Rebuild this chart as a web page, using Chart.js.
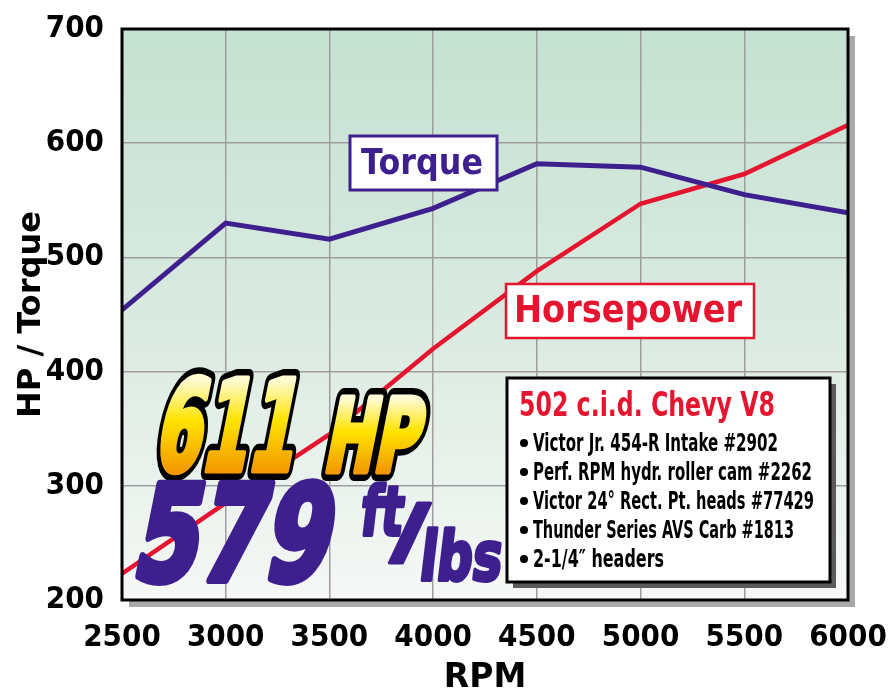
<!DOCTYPE html>
<html>
<head>
<meta charset="utf-8">
<script src="https://cdn.jsdelivr.net/npm/chart.js@4.4.1/dist/chart.umd.min.js"></script>
<style>
  html, body { margin: 0; padding: 0; background: #fff; }
  #wrap { width: 888px; height: 700px; }
</style>
</head>
<body>
<div id="wrap"><canvas id="dynoChart" width="888" height="700"></canvas></div>
<script>
// dyno chart data
const rpm = [2500, 3000, 3500, 4000, 4500, 5000, 5500, 6000];
const torque = [454, 530, 516, 543, 582, 579, 555, 539];
const horsepower = [223, 285, 345, 420, 488, 547, 573, 616];

const rpmTicks = [2500, 3000, 3500, 4000, 4500, 5000, 5500, 6000];
const yTicks = [200, 300, 400, 500, 600, 700];

const specTitle = "502 c.i.d. Chevy V8";
const specLines = [
  "Victor Jr. 454-R Intake #2902",
  "Perf. RPM hydr. roller cam #2262",
  "Victor 24\u00b0 Rect. Pt. heads #77429",
  "Thunder Series AVS Carb #1813",
  "2-1/4\u2033 headers"
];

const PURPLE = "#3e1f8e";
const RED = "#e5152f";
const NARROW = "'DejaVu Sans Condensed', 'Liberation Sans Narrow', sans-serif";
const WIDE = "'DejaVu Sans', Verdana, sans-serif";

// -------------------------------
// text helper: fit text into a given width / cap height
// -------------------------------
function fitText(ctx, text, x, y, w, capH, o) {
  o = o || {};
  const size = capH / 0.72;
  ctx.save();
  ctx.font = (o.weight || "bold") + " " + size + "px " + (o.family || WIDE);
  ctx.textBaseline = "alphabetic";
  ctx.textAlign = "left";
  const mw = ctx.measureText(text).width;
  const sx = w / mw;
  const skew = o.skew || 0;
  ctx.transform(sx, 0, -skew, 1, x, y);
  if (o.gradient) {
    const g = ctx.createLinearGradient(0, -capH, 0, 0);
    g.addColorStop(0, "#fffbd2");
    g.addColorStop(0.45, "#ffe300");
    g.addColorStop(1, "#f29a00");
    o.fill = g;
  }
  ctx.lineJoin = "round";
  if (o.stroke) {
    ctx.lineWidth = o.strokeWidth || 8;
    ctx.strokeStyle = o.stroke;
    ctx.strokeText(text, 0, 0);
  }
  ctx.fillStyle = o.fill || "#000";
  if (o.bolder) {
    // fake extra weight
    ctx.lineWidth = o.bolder;
    ctx.strokeStyle = o.fill;
    ctx.strokeText(text, 0, 0);
  }
  ctx.fillText(text, 0, 0);
  ctx.restore();
}

function boxWithShadow(ctx, x, y, w, h, border, lw, shadow, off) {
  ctx.save();
  if (shadow) {
    ctx.fillStyle = shadow;
    ctx.fillRect(x + off, y + off, w, h);
  }
  ctx.fillStyle = "#fff";
  ctx.fillRect(x, y, w, h);
  ctx.strokeStyle = border;
  ctx.lineWidth = lw;
  ctx.strokeRect(x, y, w, h);
  ctx.restore();
}

// -------------------------------
// background / frame plugin
// -------------------------------
const framePlugin = {
  id: "frame",
  beforeDraw(chart) {
    const { ctx, chartArea: a } = chart;
    ctx.save();
    ctx.fillStyle = "#ffffff";
    ctx.fillRect(0, 0, chart.width, chart.height);
    // soft grey drop shadow
    ctx.fillStyle = "#a9a9a9";
    ctx.fillRect(a.left + 7, a.top + 7, a.right - a.left, a.bottom - a.top);
    const g = ctx.createLinearGradient(0, a.top, 0, a.bottom);
    g.addColorStop(0, "#c4e1d1");
    g.addColorStop(0.55, "#dcebe2");
    g.addColorStop(1, "#f6f8f6");
    ctx.fillStyle = g;
    ctx.fillRect(a.left, a.top, a.right - a.left, a.bottom - a.top);
    ctx.restore();
  },
  afterDatasetsDraw(chart) {
    const { ctx, chartArea: a } = chart;
    ctx.save();
    ctx.strokeStyle = "#000";
    ctx.lineWidth = 3;
    ctx.strokeRect(a.left, a.top, a.right - a.left, a.bottom - a.top);
    ctx.restore();
  }
};

// -------------------------------
// labels, headline numbers and spec box
// -------------------------------
const notesPlugin = {
  id: "notes",
  afterDraw(chart) {
    const ctx = chart.ctx;

    // series labels
    boxWithShadow(ctx, 350, 136, 147, 54, PURPLE, 3);
    fitText(ctx, "Torque", 361, 174, 122, 25, { fill: PURPLE });

    boxWithShadow(ctx, 506, 284, 248, 54, RED, 2.5);
    fitText(ctx, "Horsepower", 514, 322, 228, 27, { fill: RED });

    // headline numbers
    const big = { skew: 0.2, stroke: "#000", strokeWidth: 20, gradient: true, bolder: 7 };
    fitText(ctx, "611", 152, 470, 140, 90, big);
    fitText(ctx, "HP", 322, 471, 94, 72, big);

    fitText(ctx, "579", 130, 580, 196, 95, { skew: 0.2, fill: PURPLE, bolder: 8 });
    fitText(ctx, "ft", 359, 535, 42, 49, { skew: 0.12, fill: PURPLE, bolder: 4 });
    fitText(ctx, "/", 390, 556, 40, 53, { skew: 0, fill: PURPLE, bolder: 3 });
    fitText(ctx, "lbs", 418, 580, 82, 49, { skew: 0.12, fill: PURPLE, bolder: 4 });

    // spec box
    boxWithShadow(ctx, 507, 378, 323, 204, "#000", 3, "#5a5a5a", 6);
    fitText(ctx, specTitle, 519, 416, 256, 24, { family: NARROW, fill: RED });
    const widths = [245, 279, 281, 261, 131];
    specLines.forEach((line, i) => {
      const base = 451 + i * 29;
      ctx.save();
      ctx.fillStyle = "#000";
      ctx.beginPath();
      ctx.arc(524, base - 8, 4, 0, Math.PI * 2);
      ctx.fill();
      ctx.restore();
      fitText(ctx, line, 533, base, widths[i], 18, { family: NARROW, fill: "#000" });
    });
  }
};

// -------------------------------
// Chart.js config
// -------------------------------
const tickFont = { family: NARROW, size: 31, weight: "bold" };

const config = {
  type: "line",
  data: {
    labels: rpm,
    datasets: [
      {
        label: "Torque",
        data: rpm.map((r, i) => ({ x: r, y: torque[i] })),
        borderColor: PURPLE,
        borderWidth: 5,
        pointRadius: 0,
        tension: 0
      },
      {
        label: "Horsepower",
        data: rpm.map((r, i) => ({ x: r, y: horsepower[i] })),
        borderColor: RED,
        borderWidth: 4.5,
        pointRadius: 0,
        tension: 0
      }
    ]
  },
  options: {
    responsive: false,
    animation: false,
    layout: { padding: { left: 0, right: 40, top: 29, bottom: 0 } },
    plugins: {
      legend: { display: false },
      tooltip: { enabled: false }
    },
    scales: {
      x: {
        type: "linear",
        min: 2500,
        max: 6000,
        afterBuildTicks: s => { s.ticks = rpmTicks.map(v => ({ value: v })); },
        afterFit: s => { s.height = 100; s.paddingLeft = 0; s.paddingRight = 0; },
        ticks: { font: tickFont, color: "#000", padding: 19, maxRotation: 0, autoSkip: false, callback: v => String(v) },
        grid: { color: "#9d9d9d", lineWidth: 1.5, drawTicks: false },
        border: { display: false },
        title: {
          display: true,
          text: "RPM",
          color: "#000",
          font: { family: WIDE, size: 33, weight: "bold" },
          padding: { top: 0, bottom: 2 }
        }
      },
      y: {
        min: 200,
        max: 700,
        afterBuildTicks: s => { s.ticks = yTicks.map(v => ({ value: v })); },
        afterFit: s => { s.width = 122; s.paddingTop = 0; s.paddingBottom = 0; },
        ticks: { font: tickFont, color: "#000", padding: 18, callback: v => String(v) },
        grid: { color: "#9d9d9d", lineWidth: 1.5, drawTicks: false },
        border: { display: false },
        title: {
          display: true,
          text: "HP / Torque",
          color: "#000",
          font: { family: WIDE, size: 32, weight: "bold" },
          padding: { top: 12, bottom: 0 }
        }
      }
    }
  },
  plugins: [framePlugin, notesPlugin]
};

const ctx = document.getElementById("dynoChart");
if (ctx) {
  new Chart(ctx, config);
}
</script>
</body>
</html>
